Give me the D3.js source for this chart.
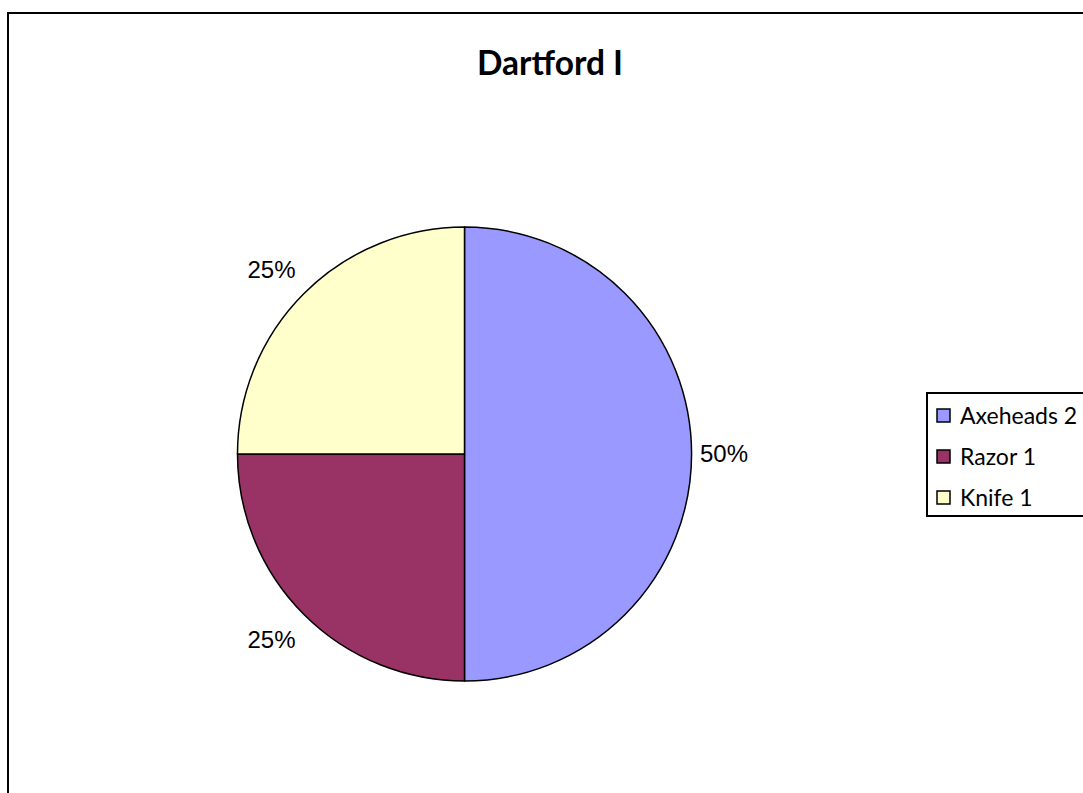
<!DOCTYPE html>
<html>
<head>
<meta charset="utf-8">
<script src="https://cdn.jsdelivr.net/npm/d3@7"></script>
<style>
  body { margin: 0; background: #fff; }
  svg { display: block; }
</style>
</head>
<body>
<div id="chart"></div>
<script>
// chart data
var categories = ['Axeheads', 'Razor', 'Knife'];
var counts = [2, 1, 1];
var colors = ['#9999FF', '#993366', '#FFFFCC'];
var title = 'Dartford I';

var svgWidth = 1083;
var svgHeight = 793;

var svg = d3.select('#chart')
  .append('svg')
  .attr('width', svgWidth)
  .attr('height', svgHeight);

// outer chart border (runs off the right and bottom edge like the picture)
svg.append('rect')
  .attr('x', 8)
  .attr('y', 13)
  .attr('width', 1200)
  .attr('height', 900)
  .attr('fill', '#fff')
  .attr('stroke', '#000')
  .attr('stroke-width', 2);

svg.append('text')
  .attr('x', 550)
  .attr('y', 75)
  .attr('text-anchor', 'middle')
  .attr('font-family', 'Lato, "Open Sans", sans-serif')
  .attr('font-weight', 'bold')
  .attr('font-size', '33.5px')
  .text(title);

var cx = 464.5, cy = 454, radius = 227;

var data = categories.map(function(c, i) {
  return { name: c, value: counts[i], color: colors[i] };
});
var total = d3.sum(counts);

var pie = d3.pie().sort(null).value(d => d.value);
var arc = d3.arc().innerRadius(0).outerRadius(radius);

var pieGroup = svg.append('g')
  .attr('transform', `translate(${cx}, ${cy})`);

pieGroup.selectAll('path')
  .data(pie(data))
  .enter()
  .append('path')
  .attr('d', arc)
  .attr('fill', d => d.data.color)
  .attr('stroke', '#000')
  .attr('stroke-width', 1.5)
  .attr('stroke-linejoin', 'round');

// percentage labels outside the pie, near edge of the label kept a fixed gap from the rim
var fmt = d3.format('.0%');
var padX = 8.5, padY = 16;
pieGroup.selectAll('.pctLabel')
  .data(pie(data))
  .enter()
  .append('text')
  .classed('pctLabel', true)
  .each(function(d) {
    var a = (d.startAngle + d.endAngle) / 2;
    var x = Math.sin(a) * radius;
    var y = -Math.cos(a) * radius;
    var anchor = 'middle', dy = '0.35em';
    if (x > 1) { x += padX; anchor = 'start'; }
    else if (x < -1) { x -= padX; anchor = 'end'; }
    if (y < -1) { y -= padY; dy = '0'; }
    else if (y > 1) { y += padY; dy = '0.72em'; }
    d3.select(this)
      .attr('x', x)
      .attr('y', y)
      .attr('dy', dy)
      .attr('text-anchor', anchor);
  })
  .attr('font-family', '"Liberation Sans", Arial, sans-serif')
  .attr('font-size', '24px')
  .attr('fill', '#000')
  .text(d => fmt(d.data.value / total));

// legend
var legend = svg.append('g')
  .attr('transform', 'translate(927, 393)');

legend.append('rect')
  .attr('x', 0)
  .attr('y', 0)
  .attr('width', 300)
  .attr('height', 123)
  .attr('fill', '#fff')
  .attr('stroke', '#000')
  .attr('stroke-width', 2);

var rowY = d3.scalePoint()
  .domain(categories)
  .range([23, 105]);

var items = legend.selectAll('.legendItem')
  .data(data)
  .enter()
  .append('g')
  .classed('legendItem', true)
  .attr('transform', d => `translate(10, ${rowY(d.name)})`);

items.append('rect')
  .attr('x', 0)
  .attr('y', -7)
  .attr('width', 13)
  .attr('height', 13)
  .attr('fill', d => d.color)
  .attr('stroke', '#000')
  .attr('stroke-width', 1.5);

items.append('text')
  .attr('x', 23)
  .attr('y', 0)
  .attr('dy', '0.36em')
  .attr('font-family', 'Lato, "Open Sans", sans-serif')
  .attr('font-size', '23px')
  .text((d, i) => d.name + ' ' + counts[i]);
</script>
</body>
</html>
